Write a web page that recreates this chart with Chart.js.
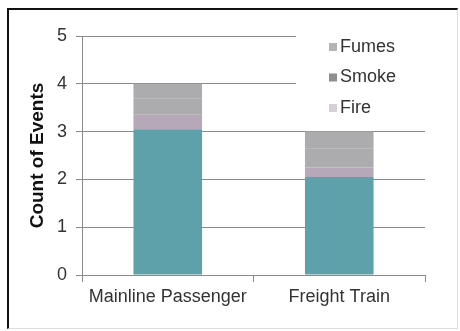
<!DOCTYPE html>
<html>
<head>
<meta charset="utf-8">
<script src="https://cdn.jsdelivr.net/npm/chart.js@4/dist/chart.umd.min.js"></script>
<style>
  html, body { margin: 0; padding: 0; background: #fff; }
  #wrap { position: relative; width: 460px; height: 331px; }
  #frame {
    position: absolute; left: 7px; top: 8px; width: 448px; height: 318px;
    border-left: 2px solid #111; border-top: 2px solid #111;
    border-right: 1px solid #ddd; border-bottom: 1px solid #ddd;
    pointer-events: none;
  }
  canvas { position: absolute; left: 0; top: 0; }
</style>
</head>
<body>
<div id="wrap">
  <canvas id="eventsChart" width="460" height="331"></canvas>
  <div id="frame"></div>
</div>
<script>
// 件数グラフ（Chart.js）
const categories = ['Mainline Passenger', 'Freight Train'];
const baseCounts = [3.05, 2.05];   // 凡例なしの下段
const fireCounts = [0.3, 0.2];
const smokeCounts = [0.35, 0.4];
const fumesCounts = [0.3, 0.35];
const yTicks = [0, 1, 2, 3, 4, 5];

const FONT = "'Liberation Sans', Arial, sans-serif";

// 凡例（白背景でグリッド線を隠す）
const boxLegend = {
  id: 'boxLegend',
  afterDraw(chart) {
    const c = chart.ctx;
    const items = chart.data.datasets.filter(d => d.label).reverse();
    c.save();
    c.fillStyle = '#fff';
    c.fillRect(296, 28, 138, 96);
    c.font = '18px ' + FONT;
    c.textBaseline = 'middle';
    items.forEach((d, i) => {
      const y = 47 + i * 30.5;
      c.fillStyle = d.legendColor;
      c.fillRect(329, y - 4, 8, 8);
      c.fillStyle = '#333';
      c.fillText(d.label, 340, y);
    });
    c.restore();
  }
};

new Chart(document.getElementById('eventsChart'), {
  type: 'bar',
  data: {
    labels: categories,
    datasets: [
      { label: '', data: baseCounts, backgroundColor: '#5fa1aa' },
      { label: 'Fire', data: fireCounts, backgroundColor: '#b6a8b8', legendColor: '#d8ced6' },
      { label: 'Smoke', data: smokeCounts, backgroundColor: '#acabae', legendColor: '#8e8e8e' },
      { label: 'Fumes', data: fumesCounts, backgroundColor: '#acabae', legendColor: '#b4b4b4' }
    ]
  },
  options: {
    responsive: false,
    animation: false,
    layout: { padding: { left: 26, top: 36, right: 35, bottom: 0 } },
    datasets: { bar: { barPercentage: 0.4, categoryPercentage: 1, borderWidth: 0 } },
    plugins: {
      legend: { display: false },
      tooltip: { enabled: false }
    },
    scales: {
      x: {
        stacked: true,
        afterFit: s => { s.height = 56; },
        grid: { offset: true, drawOnChartArea: false, tickLength: 7, color: '#8a8a8a' },
        border: { color: '#8a8a8a' },
        ticks: { padding: 4, color: '#333', font: { family: FONT, size: 18 } }
      },
      y: {
        stacked: true,
        min: 0,
        max: 5,
        afterFit: s => { s.width = 56; },
        afterBuildTicks: s => { s.ticks = yTicks.map(v => ({ value: v })); },
        grid: { color: '#8a8a8a', tickLength: 6 },
        border: { color: '#8a8a8a' },
        ticks: { padding: 9, color: '#333', font: { family: FONT, size: 18 } },
        title: {
          display: true,
          text: 'Count of Events',
          color: '#111',
          padding: 0,
          font: { family: FONT, size: 19, weight: 'bold' }
        }
      }
    }
  },
  plugins: [boxLegend]
});
</script>
</body>
</html>
